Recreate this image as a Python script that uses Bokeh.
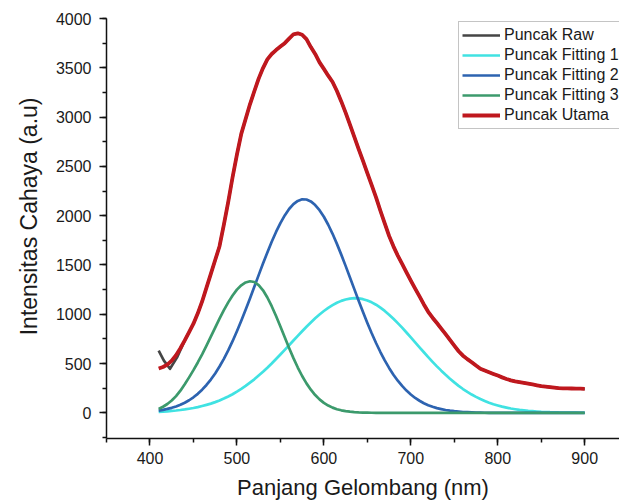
from bokeh.plotting import figure
from bokeh.models import Range1d, SingleIntervalTicker, Legend, LegendItem, Title
from bokeh.embed import file_html
from bokeh.resources import INLINE

# Wavelength grid (nm) of the spectra
wavelength = list(range(410, 905, 5))

# Main emission peak (measured, lightly smoothed)
puncak_utama = [450, 465, 490, 530, 585, 655, 735, 820, 905, 1010,
                1130, 1270, 1410, 1550, 1690, 1910, 2140, 2390, 2620, 2830,
                2980, 3130, 3262, 3390, 3497, 3585, 3640, 3680, 3715, 3750,
                3796, 3840, 3850, 3835, 3790, 3710, 3640, 3555, 3489, 3420,
                3356, 3265, 3159, 3045, 2923, 2800, 2676, 2555, 2431, 2310,
                2186, 2050, 1922, 1795, 1689, 1595, 1512, 1425, 1342, 1260,
                1181, 1100, 1025, 965, 911, 855, 798, 740, 682, 625,
                580, 545, 514, 480, 448, 430, 413, 395, 378, 360,
                344, 330, 320, 312, 304, 296, 288, 280, 272, 267,
                262, 256, 250, 249, 248, 247, 246, 245, 244]

# Raw spectrum: only its first points differ visibly from the main peak
raw_wavelength = [410, 416, 423, 431] + wavelength[6:]
puncak_raw = [632, 530, 447, 560] + puncak_utama[6:]

# Gaussian components of the fit
fitting_1 = [11, 13, 16, 20, 24, 29, 35, 42, 49, 58,
             69, 81, 94, 109, 126, 145, 166, 189, 215, 243,
             273, 306, 340, 378, 417, 458, 501, 546, 592, 639,
             686, 734, 781, 828, 874, 917, 959, 998, 1033, 1065,
             1093, 1117, 1136, 1150, 1159, 1163, 1161, 1153, 1140, 1121,
             1097, 1067, 1034, 996, 955, 910, 864, 815, 766, 715,
             665, 615, 566, 518, 472, 428, 386, 346, 309, 274,
             242, 213, 186, 162, 140, 121, 103, 88, 75, 63,
             53, 44, 37, 30, 25, 20, 17, 14, 11, 9,
             7, 6, 4, 3, 3, 2, 2, 1, 1]

fitting_2 = [23, 31, 40, 51, 65, 82, 103, 128, 158, 193,
             235, 283, 338, 400, 470, 548, 634, 727, 828, 934,
             1046, 1161, 1279, 1397, 1514, 1627, 1735, 1835, 1925, 2003,
             2068, 2117, 2150, 2166, 2164, 2145, 2108, 2056, 1989, 1908,
             1816, 1714, 1605, 1491, 1373, 1255, 1138, 1023, 912, 807,
             709, 617, 532, 456, 387, 326, 273, 226, 186, 151,
             123, 98, 78, 62, 48, 38, 29, 22, 17, 13,
             9, 7, 5, 3, 2, 1, 0, 0, 0, 0,
             0, 0, 0, 0, 0, 0, 0, 0, 0, 0,
             0, 0, 0, 0, 0, 0, 0, 0, 0]

fitting_3 = [40, 62, 90, 125, 170, 225, 290, 360, 433, 511,
             594, 682, 773, 865, 956, 1042, 1121, 1191, 1250, 1294,
             1323, 1335, 1327, 1296, 1243, 1170, 1082, 982, 875, 766,
             658, 555, 460, 374, 299, 235, 181, 137, 101, 74,
             53, 37, 26, 18, 12, 8, 5, 3, 2, 1,
             0, 0, 0, 0, 0, 0, 0, 0, 0, 0,
             0, 0, 0, 0, 0, 0, 0, 0, 0, 0,
             0, 0, 0, 0, 0, 0, 0, 0, 0, 0,
             0, 0, 0, 0, 0, 0, 0, 0, 0, 0,
             0, 0, 0, 0, 0, 0, 0, 0, 0]

FONT = "Liberation Sans"
INK = "#1a1a1a"

p = figure(width=619, height=503, output_backend="svg", toolbar_location=None,
           x_range=Range1d(350, 940), y_range=Range1d(-260, 4000),
           min_border_left=106, min_border_right=0,
           min_border_top=18, min_border_bottom=65)
p.outline_line_color = None
p.grid.visible = False
p.background_fill_color = "white"
p.border_fill_color = "white"

r_raw = p.line(raw_wavelength, puncak_raw, line_color="#454545", line_width=2.7,
               line_join="round")
r_f1 = p.line(wavelength, fitting_1, line_color="#40e2e2", line_width=2.7,
              line_join="round")
r_f2 = p.line(wavelength, fitting_2, line_color="#2d63b0", line_width=2.7,
              line_join="round")
r_f3 = p.line(wavelength, fitting_3, line_color="#3c9a6c", line_width=2.7,
              line_join="round")
r_ut = p.line(wavelength, puncak_utama, line_color="#bf181e", line_width=3.8,
              line_join="round")

p.xaxis.ticker = SingleIntervalTicker(interval=100, num_minor_ticks=2)
p.yaxis.ticker = SingleIntervalTicker(interval=500, num_minor_ticks=2)

for ax in (p.xaxis, p.yaxis):
    ax.axis_line_width = 1.5
    ax.axis_line_color = "#111111"
    ax.major_tick_line_width = 1.5
    ax.minor_tick_line_width = 1.5
    ax.major_tick_line_color = "#111111"
    ax.minor_tick_line_color = "#111111"
    ax.major_tick_out = 7
    ax.major_tick_in = 0
    ax.minor_tick_out = 4
    ax.minor_tick_in = 0
    ax.major_label_text_font = FONT
    ax.major_label_text_font_size = "16px"
    ax.major_label_text_color = INK
    ax.axis_label_text_font = FONT
    ax.axis_label_text_font_size = "22px"
    ax.axis_label_text_font_style = "normal"
    ax.axis_label_text_color = INK

p.xaxis.axis_label = "Panjang Gelombang (nm)"
p.xaxis.major_label_standoff = 6
p.yaxis.major_label_standoff = 8
p.xaxis.axis_label_standoff = 8

# vertical axis title, its upper end placed a fixed distance below the frame top
p.add_layout(Title(text="Intensitas Cahaya (a.u)", align="right", offset=79,
                   text_font=FONT, text_font_size="23px",
                   text_font_style="normal", text_color=INK, standoff=22),
             "left")

legend = Legend(
    items=[
        LegendItem(label="Puncak Raw", renderers=[r_raw]),
        LegendItem(label="Puncak Fitting 1", renderers=[r_f1]),
        LegendItem(label="Puncak Fitting 2", renderers=[r_f2]),
        LegendItem(label="Puncak Fitting 3", renderers=[r_f3]),
        LegendItem(label="Puncak Utama", renderers=[r_ut]),
    ],
    location=(352, 309),
    orientation="vertical",
    label_text_font=FONT,
    label_text_font_size="16px",
    label_text_color=INK,
    glyph_width=38,
    glyph_height=20,
    label_height=20,
    label_standoff=4,
    spacing=0,
    padding=3,
    margin=0,
    border_line_color="#8a8a8a",
    border_line_width=1,
    background_fill_color="white",
    background_fill_alpha=1.0,
)
p.add_layout(legend)

open("out.html", "w").write(file_html(p, INLINE))
